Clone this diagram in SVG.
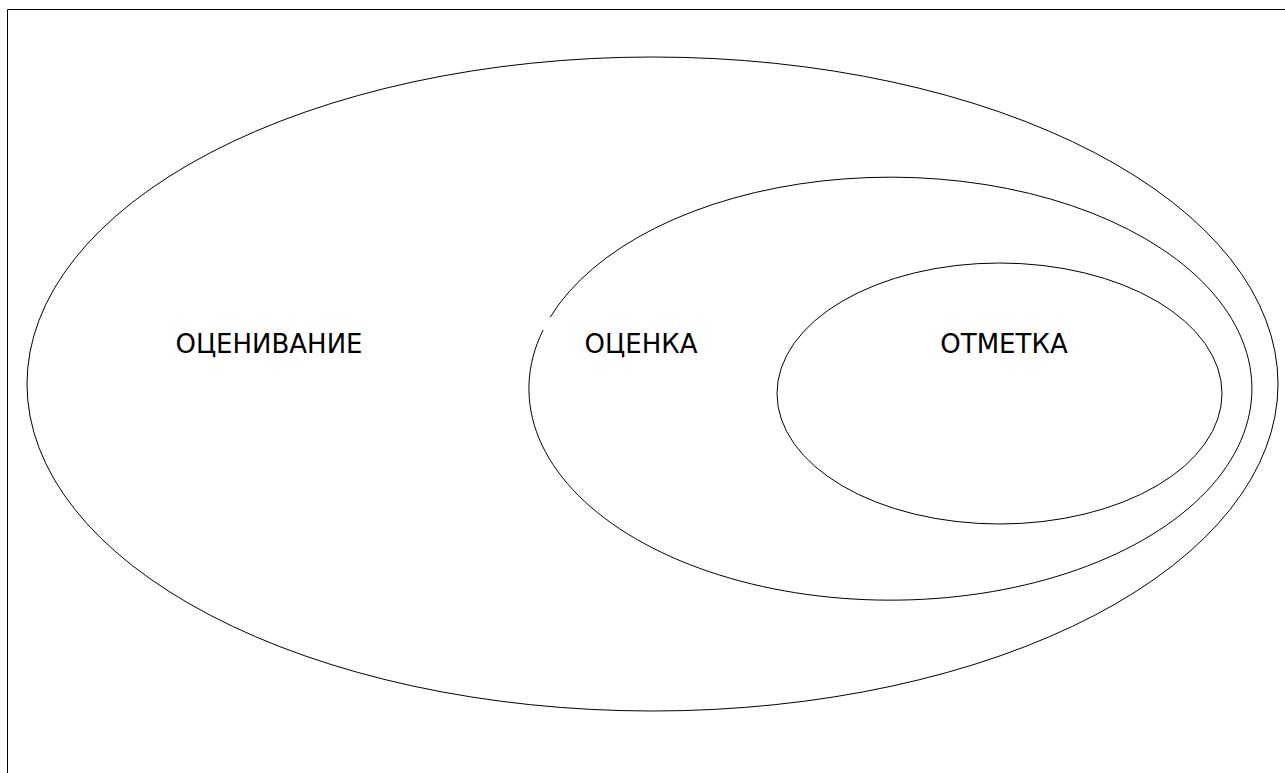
<svg xmlns="http://www.w3.org/2000/svg" width="1285" height="773" viewBox="0 0 1285 773">
<style>
.e{fill:none;stroke:#000;stroke-width:1}
.t{font-family:"DejaVu Sans",sans-serif;font-size:26px;fill:#000;text-anchor:middle}
</style>
<rect width="1285" height="773" fill="#fff"/>
<g id="frame">
<path d="M7.5 773 V9.5 H1285" fill="none" stroke="#000" stroke-width="1"/>
</g>
<g id="connectors"></g>
<g id="outer">
<ellipse class="e" cx="652.5" cy="384" rx="625.5" ry="327"/>
<text class="t" x="269" y="353">ОЦЕНИВАНИЕ</text>
</g>
<g id="middle">
<path class="e" d="M550.3 317 A361.5 211.5 0 1 1 543.1 330"/>
<text class="t" x="641" y="353">ОЦЕНКА</text>
</g>
<g id="inner">
<ellipse class="e" cx="999.5" cy="393.5" rx="222.5" ry="130.5"/>
<text class="t" x="1004" y="353">ОТМЕТКА</text>
</g>
</svg>
